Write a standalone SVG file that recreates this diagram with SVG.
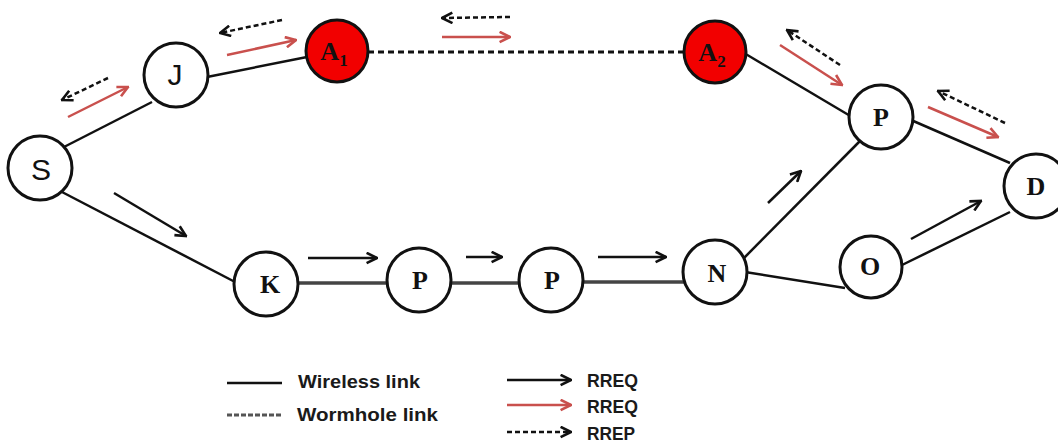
<svg xmlns="http://www.w3.org/2000/svg" width="1058" height="445" viewBox="0 0 1058 445">
<style>
.link{stroke:#111;stroke-width:2.5;fill:none}
.thick{stroke:#444;stroke-width:3.5;fill:none}
.worm{stroke:#111;stroke-width:3;stroke-dasharray:6 4;fill:none}
.req{stroke:#111;stroke-width:2.5;fill:none}
.red{stroke:#c9504d;stroke-width:2.5;fill:none}
.rep{stroke:#111;stroke-width:2.5;stroke-dasharray:5 3;fill:none}
.node{fill:#fff;stroke:#111;stroke-width:3}
.mal{fill:#f20000;stroke:#111;stroke-width:3}
.lbl{font-family:"Liberation Serif",serif;font-weight:bold;font-size:26px;fill:#111;text-anchor:middle}
.lbls{font-family:"Liberation Sans",sans-serif;font-size:30px;fill:#111;text-anchor:middle}
.leg{font-family:"Liberation Sans",sans-serif;font-weight:bold;font-size:19px;fill:#1a1a1a}
</style>
<defs>
<marker id="hb" viewBox="0 0 10 10" refX="9" refY="5" markerWidth="13" markerHeight="13" markerUnits="userSpaceOnUse" orient="auto"><path d="M1,1 L9,5 L1,9" fill="none" stroke="#111" stroke-width="2"/></marker>
<marker id="hr" viewBox="0 0 10 10" refX="9" refY="5" markerWidth="13" markerHeight="13" markerUnits="userSpaceOnUse" orient="auto"><path d="M1,1 L9,5 L1,9" fill="none" stroke="#c9504d" stroke-width="2"/></marker>
</defs>
<g id="connectors">
<line class="link" x1="62" y1="148" x2="152" y2="102"/>
<line class="link" x1="207" y1="77" x2="307" y2="57"/>
<line class="worm" x1="368" y1="52" x2="686" y2="52"/>
<line class="link" x1="744" y1="53" x2="852" y2="117"/>
<line class="link" x1="911" y1="120" x2="1010" y2="163"/>
<line class="link" x1="62" y1="192" x2="237" y2="283"/>
<line class="thick" x1="296" y1="283" x2="389" y2="283"/>
<line class="thick" x1="449" y1="283" x2="521" y2="283"/>
<line class="thick" x1="581" y1="282" x2="685" y2="282"/>
<line class="link" x1="743" y1="259" x2="860" y2="141"/>
<line class="link" x1="745" y1="272" x2="845" y2="288"/>
<line class="link" x1="900" y1="266" x2="1010" y2="212"/>
<!-- RREQ black -->
<line class="req" x1="114" y1="193" x2="186" y2="236" marker-end="url(#hb)"/>
<line class="req" x1="308" y1="258" x2="377" y2="258" marker-end="url(#hb)"/>
<line class="req" x1="466" y1="257" x2="502" y2="257" marker-end="url(#hb)"/>
<line class="req" x1="598" y1="257" x2="666" y2="257" marker-end="url(#hb)"/>
<line class="req" x1="768" y1="203" x2="801" y2="171" marker-end="url(#hb)"/>
<line class="req" x1="911" y1="239" x2="981" y2="201" marker-end="url(#hb)"/>
<!-- RREQ red -->
<line class="red" x1="68" y1="117" x2="128" y2="87" marker-end="url(#hr)"/>
<line class="red" x1="227" y1="55" x2="296" y2="40" marker-end="url(#hr)"/>
<line class="red" x1="442" y1="37" x2="510" y2="37" marker-end="url(#hr)"/>
<line class="red" x1="780" y1="45" x2="842" y2="85" marker-end="url(#hr)"/>
<line class="red" x1="928" y1="107" x2="998" y2="137" marker-end="url(#hr)"/>
<!-- RREP dashed -->
<line class="rep" x1="108" y1="78" x2="62" y2="100" marker-end="url(#hb)"/>
<line class="rep" x1="282" y1="20" x2="220" y2="33" marker-end="url(#hb)"/>
<line class="rep" x1="510" y1="17" x2="442" y2="18" marker-end="url(#hb)"/>
<line class="rep" x1="840" y1="65" x2="787" y2="30" marker-end="url(#hb)"/>
<line class="rep" x1="1005" y1="123" x2="938" y2="91" marker-end="url(#hb)"/>
</g>
<g id="node-S"><circle class="node" cx="40" cy="168" r="32"/><text class="lbls" x="41" y="180">S</text></g>
<g id="node-J"><circle class="node" cx="176" cy="75" r="32"/><text class="lbls" x="175" y="85">J</text></g>
<g id="node-A1"><circle class="mal" cx="337" cy="51" r="31"/><text class="lbl" x="334" y="60">A<tspan font-size="17" dy="6">1</tspan></text></g>
<g id="node-A2"><circle class="mal" cx="715" cy="52" r="31"/><text class="lbl" x="712" y="61">A<tspan font-size="17" dy="6">2</tspan></text></g>
<g id="node-P-top"><circle class="node" cx="881" cy="117" r="32"/><text class="lbl" x="881" y="126">P</text></g>
<g id="node-D"><circle class="node" cx="1036" cy="186" r="32"/><text class="lbl" x="1036" y="195">D</text></g>
<g id="node-K"><circle class="node" cx="266" cy="284" r="32"/><text class="lbl" x="270" y="293">K</text></g>
<g id="node-P1"><circle class="node" cx="419" cy="280" r="32"/><text class="lbl" x="420" y="289">P</text></g>
<g id="node-P2"><circle class="node" cx="551" cy="280" r="32"/><text class="lbl" x="552" y="289">P</text></g>
<g id="node-N"><circle class="node" cx="715" cy="272" r="32"/><text class="lbl" x="717" y="282">N</text></g>
<g id="node-O"><circle class="node" cx="871" cy="267" r="31"/><text class="lbl" x="870" y="275">O</text></g>
<g id="legend">
<line class="link" x1="227" y1="383" x2="282" y2="383"/>
<text class="leg" x="298" y="388" textLength="122" lengthAdjust="spacingAndGlyphs">Wireless link</text>
<line stroke="#555" stroke-width="3" stroke-dasharray="5 2" x1="227" y1="415" x2="282" y2="415"/>
<text class="leg" x="297" y="421" textLength="141" lengthAdjust="spacingAndGlyphs">Wormhole link</text>
<line class="req" x1="507" y1="380" x2="571" y2="380" marker-end="url(#hb)"/>
<text class="leg" x="587" y="387" textLength="51" lengthAdjust="spacingAndGlyphs">RREQ</text>
<line class="red" stroke-width="3" x1="507" y1="405" x2="571" y2="405" marker-end="url(#hr)"/>
<text class="leg" x="587" y="413" textLength="51" lengthAdjust="spacingAndGlyphs">RREQ</text>
<line class="rep" x1="507" y1="432" x2="571" y2="432" marker-end="url(#hb)"/>
<text class="leg" x="587" y="440" textLength="48" lengthAdjust="spacingAndGlyphs">RREP</text>
</g>
</svg>
